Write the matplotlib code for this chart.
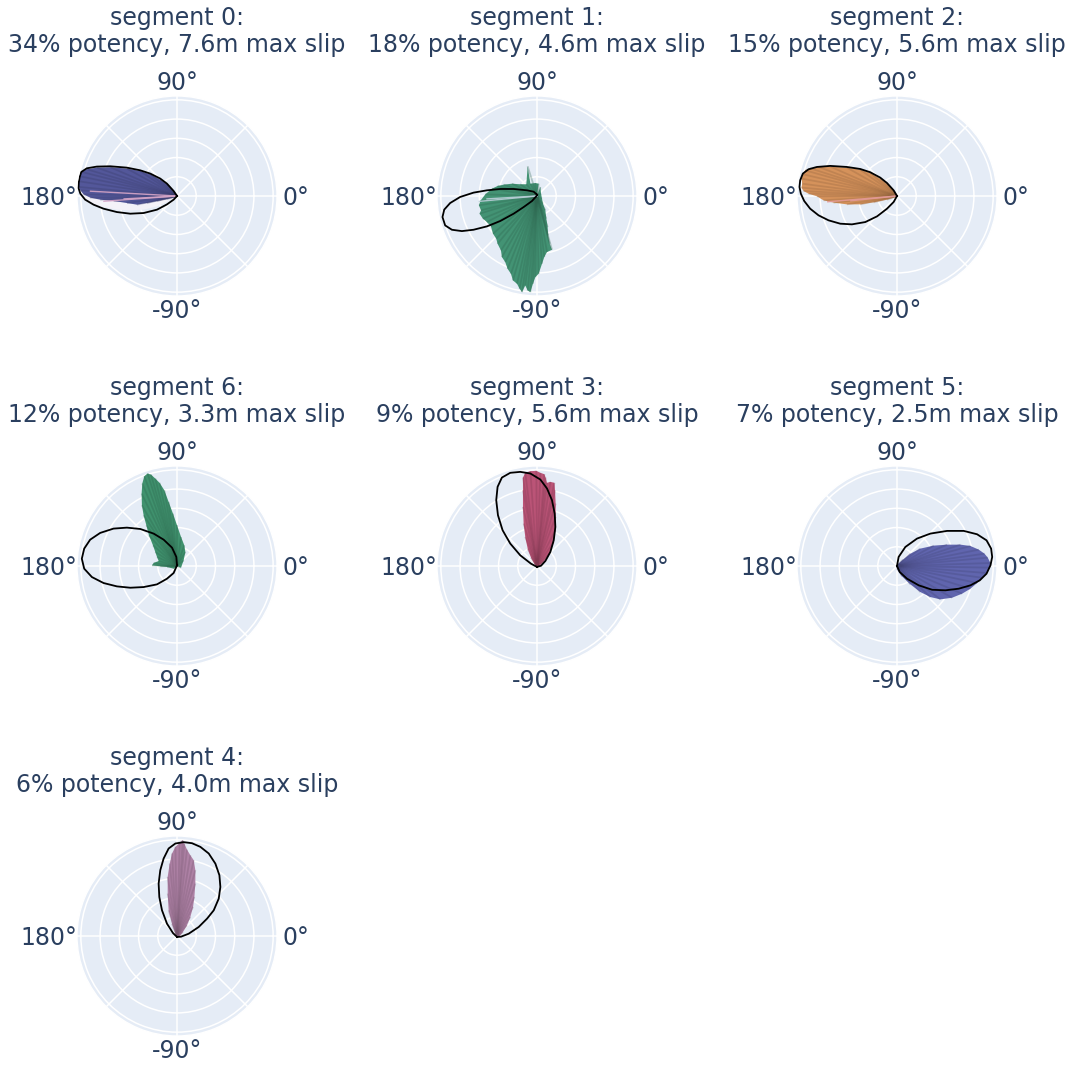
import numpy as np
import matplotlib
matplotlib.use("Agg")
import matplotlib.pyplot as plt
from matplotlib.transforms import offset_copy

# ---- subplot order, headline numbers -------------------------------------
segments = [0, 1, 2, 6, 3, 5, 4]
potency_pct = [34, 18, 15, 12, 9, 7, 6]
max_slip_m = [7.6, 4.6, 5.6, 3.3, 5.6, 2.5, 4.0]
fan_colors = ["#4e5291", "#3f8b6d", "#c98a56", "#3c8a68", "#b04f70", "#5b5fa4", "#a47a9c"]

theta_grid_deg = [0, 45, 90, 135, 180, 225, 270, 315]
theta_label_deg = [0, 90, 180, 270]
theta_labels = ["0°", "90°", "180°", "-90°"]
r_ticks = [0.2, 0.4, 0.6, 0.8, 1.0]
r_max = 1.04

# ---- slip-vector envelopes (normalised along-strike / along-dip parts) ----
fan_ss_0 = [-0.035, -0.104, -0.174, -0.278, -0.382, -0.521, -0.694, -0.833, -0.938, -0.990, -1.010, -1.020,
            -1.020, -1.005, -0.972, -0.903, -0.799, -0.660, -0.521, -0.417, -0.313, -0.208, -0.104, -0.017]
fan_ds_0 = [0.045, 0.122, 0.170, 0.226, 0.260, 0.285, 0.299, 0.295, 0.278, 0.250, 0.205, 0.153,
            0.094, 0.059, 0.017, -0.017, -0.038, -0.052, -0.073, -0.090, -0.073, -0.052, -0.031, -0.007]

fan_ss_1 = [0.017, -0.017, -0.069, -0.097, -0.111, -0.174, -0.260, -0.347, -0.410, -0.469, -0.538, -0.590,
            -0.604, -0.583, -0.597, -0.563, -0.521, -0.479, -0.458, -0.424, -0.410, -0.375, -0.365, -0.330,
            -0.306, -0.271, -0.250, -0.208, -0.181, -0.156, -0.122, -0.097, -0.069, -0.042, -0.017, 0.017,
            0.052, 0.076, 0.104, 0.156, 0.132, 0.115, 0.111, 0.097, 0.087, 0.0625, 0.052, 0.042, 0.035]
fan_ds_1 = [0.128, 0.135, 0.128, 0.309, 0.122, 0.122, 0.128, 0.118, 0.104, 0.076, 0.017, -0.052,
            -0.097, -0.149, -0.184, -0.236, -0.271, -0.316, -0.392, -0.444, -0.497, -0.566, -0.635, -0.688,
            -0.757, -0.809, -0.878, -0.913, -0.965, -1.000, -0.931, -0.983, -1.000, -0.913, -0.844, -0.809,
            -0.705, -0.635, -0.583, -0.559, -0.497, -0.410, -0.323, -0.236, -0.149, -0.080, -0.028, 0.024, 0.094]

fan_ss_2 = [-0.028, -0.104, -0.174, -0.278, -0.382, -0.521, -0.694, -0.816, -0.903, -0.955, -0.979, -0.993,
            -0.986, -0.993, -0.972, -0.920, -0.833, -0.764, -0.660, -0.521, -0.382, -0.243, -0.104, -0.017]
fan_ds_2 = [0.045, 0.128, 0.181, 0.240, 0.274, 0.295, 0.306, 0.302, 0.288, 0.267, 0.226, 0.181,
            0.128, 0.087, 0.052, 0.024, -0.003, -0.045, -0.069, -0.087, -0.087, -0.066, -0.038, -0.010]

fan_ss_6 = [0.042, 0.069, 0.087, 0.076, 0.042, 0.000, -0.042, -0.087, -0.132, -0.181, -0.226, -0.271,
            -0.306, -0.340, -0.361, -0.368, -0.365, -0.347, -0.319, -0.292, -0.250, -0.226, -0.208, -0.191,
            -0.243, -0.260, -0.174, -0.104, -0.035]
fan_ds_6 = [-0.017, 0.059, 0.146, 0.215, 0.302, 0.424, 0.545, 0.667, 0.788, 0.865, 0.910, 0.951,
            0.962, 0.934, 0.858, 0.753, 0.632, 0.528, 0.424, 0.319, 0.215, 0.146, 0.094, 0.052,
            0.031, 0.007, -0.003, -0.010, -0.028]

fan_ss_3 = [0.021, 0.076, 0.132, 0.174, 0.191, 0.194, 0.194, 0.1875, 0.181, 0.139, 0.104, 0.090,
            0.076, 0.035, -0.007, -0.069, -0.122, -0.146, -0.146, -0.146, -0.139, -0.122, -0.097, -0.0625, -0.028]
fan_ds_3 = [-0.003, 0.052, 0.135, 0.250, 0.372, 0.510, 0.649, 0.788, 0.865, 0.875, 0.865, 0.920,
            0.955, 0.969, 0.990, 0.986, 0.969, 0.920, 0.788, 0.615, 0.441, 0.302, 0.181, 0.087, 0.024]

fan_ss_5 = [0.007, 0.052, 0.139, 0.243, 0.347, 0.451, 0.573, 0.677, 0.764, 0.833, 0.885, 0.931,
            0.962, 0.972, 0.944, 0.910, 0.851, 0.764, 0.660, 0.521, 0.382, 0.243, 0.139, 0.0625, 0.017]
fan_ds_5 = [-0.045, -0.108, -0.191, -0.271, -0.323, -0.347, -0.330, -0.288, -0.236, -0.177, -0.122, -0.073,
            -0.017, 0.031, 0.087, 0.128, 0.170, 0.208, 0.222, 0.222, 0.212, 0.181, 0.128, 0.066, 0.024]

fan_ss_4 = [0.028, 0.0625, 0.104, 0.139, 0.167, 0.181, 0.191, 0.191, 0.174, 0.139, 0.104, 0.076,
            0.059, 0.028, -0.017, -0.052, -0.076, -0.097, -0.097, -0.087, -0.052, -0.017]
fan_ds_4 = [-0.003, 0.042, 0.111, 0.198, 0.302, 0.406, 0.545, 0.684, 0.788, 0.840, 0.899, 0.962,
            0.997, 0.969, 0.927, 0.858, 0.753, 0.615, 0.441, 0.267, 0.128, 0.024]

# pale, low-slip vectors below the main bundle of segment 0
pale_ss_0 = [-0.017, -0.104, -0.208, -0.347, -0.486, -0.625, -0.764, -0.868, -0.955, -1.007]
pale_ds_0 = [-0.010, -0.0625, -0.108, -0.142, -0.149, -0.142, -0.115, -0.080, -0.028, 0.042]

# ---- mean-slip contour for each segment ----------------------------------
out_ss_0 = [0.000, -0.035, -0.104, -0.174, -0.278, -0.382, -0.521, -0.694, -0.833, -0.938, -0.995, -1.012,
            -1.022, -1.025, -1.005, -0.955, -0.868, -0.764, -0.625, -0.486, -0.347, -0.208, -0.104, -0.035]
out_ds_0 = [0.000, 0.052, 0.128, 0.181, 0.233, 0.267, 0.295, 0.309, 0.306, 0.288, 0.250, 0.200,
            0.140, 0.085, 0.024, -0.038, -0.090, -0.132, -0.167, -0.184, -0.177, -0.142, -0.087, -0.038]

out_ss_1 = [0.000, -0.035, -0.104, -0.243, -0.382, -0.521, -0.660, -0.799, -0.903, -0.965, -0.983,
            -0.955, -0.885, -0.781, -0.660, -0.521, -0.382, -0.243, -0.139, -0.052, -0.007]
out_ds_1 = [0.014, 0.045, 0.059, 0.073, 0.073, 0.059, 0.035, -0.010, -0.073, -0.142, -0.219,
            -0.306, -0.351, -0.365, -0.351, -0.316, -0.260, -0.184, -0.115, -0.052, -0.003]

out_ss_2 = [0.000, -0.035, -0.104, -0.174, -0.278, -0.382, -0.521, -0.694, -0.833, -0.920, -0.979, -1.007,
            -1.014, -1.000, -0.965, -0.903, -0.816, -0.712, -0.590, -0.469, -0.330, -0.208, -0.104, -0.035]
out_ds_2 = [0.000, 0.059, 0.135, 0.191, 0.247, 0.281, 0.302, 0.313, 0.302, 0.278, 0.233, 0.163,
            0.094, 0.024, -0.052, -0.132, -0.201, -0.253, -0.288, -0.295, -0.271, -0.212, -0.132, -0.0625]

out_ss_6 = [0.000, -0.035, -0.104, -0.208, -0.347, -0.486, -0.625, -0.764, -0.885, -0.965, -0.990,
            -0.965, -0.903, -0.799, -0.660, -0.521, -0.382, -0.243, -0.139, -0.052, -0.007]
out_ds_6 = [0.007, -0.073, -0.132, -0.191, -0.219, -0.226, -0.212, -0.177, -0.115, -0.028, 0.076,
            0.181, 0.274, 0.344, 0.389, 0.399, 0.385, 0.337, 0.274, 0.191, 0.094]

out_ss_3 = [0.000, -0.0625, -0.174, -0.278, -0.358, -0.406, -0.424, -0.410, -0.365, -0.278, -0.174,
            -0.069, 0.035, 0.104, 0.156, 0.184, 0.191, 0.174, 0.139, 0.087, 0.042]
out_ds_3 = [-0.010, 0.024, 0.111, 0.233, 0.372, 0.528, 0.684, 0.823, 0.920, 0.969, 0.979,
            0.962, 0.899, 0.806, 0.684, 0.545, 0.406, 0.267, 0.146, 0.052, 0.003]

out_ss_5 = [0.000, 0.017, 0.087, 0.208, 0.347, 0.521, 0.694, 0.833, 0.931, 0.979, 0.990,
            0.972, 0.931, 0.861, 0.764, 0.642, 0.503, 0.365, 0.226, 0.104, 0.028]
out_ds_5 = [0.000, 0.094, 0.198, 0.285, 0.337, 0.365, 0.365, 0.330, 0.267, 0.181, 0.094,
            0.007, -0.080, -0.149, -0.201, -0.236, -0.253, -0.247, -0.201, -0.132, -0.0625]

out_ss_4 = [0.000, -0.042, -0.104, -0.156, -0.184, -0.191, -0.174, -0.139, -0.087, -0.017, 0.069, 0.156,
            0.243, 0.330, 0.399, 0.441, 0.451, 0.434, 0.382, 0.313, 0.226, 0.122, 0.042]
out_ds_4 = [-0.010, 0.031, 0.128, 0.267, 0.406, 0.545, 0.684, 0.806, 0.910, 0.962, 0.976, 0.965,
            0.927, 0.858, 0.753, 0.632, 0.510, 0.389, 0.267, 0.181, 0.094, 0.024, -0.007]

# ---- a few individual vectors that stand out from the bundle -------------
hl_ss_0 = [-0.76, -0.55, -0.90]
hl_ds_0 = [-0.055, -0.030, 0.050]
hl_ss_1 = [-0.60, -0.52]
hl_ds_1 = [-0.056, -0.030]
hl_ss_2 = [-0.72, -0.48]
hl_ds_2 = [-0.060, -0.050]
hl_colors = {0: "#d6a6c8", 1: "#b9cfd8", 2: "#e39a96"}

fans = {0: (fan_ss_0, fan_ds_0), 1: (fan_ss_1, fan_ds_1), 2: (fan_ss_2, fan_ds_2),
        3: (fan_ss_3, fan_ds_3), 4: (fan_ss_4, fan_ds_4), 5: (fan_ss_5, fan_ds_5),
        6: (fan_ss_6, fan_ds_6)}
outlines = {0: (out_ss_0, out_ds_0), 1: (out_ss_1, out_ds_1), 2: (out_ss_2, out_ds_2),
            3: (out_ss_3, out_ds_3), 4: (out_ss_4, out_ds_4), 5: (out_ss_5, out_ds_5),
            6: (out_ss_6, out_ds_6)}
highlights = {0: (hl_ss_0, hl_ds_0), 1: (hl_ss_1, hl_ds_1), 2: (hl_ss_2, hl_ds_2)}
pale = {0: (pale_ss_0, pale_ds_0)}


def to_polar(ss, ds):
    ss = np.asarray(ss, float)
    ds = np.asarray(ds, float)
    return np.unwrap(np.arctan2(ds, ss)), np.hypot(ss, ds)


def scaled(hex_color, f):
    rgb = np.array(matplotlib.colors.to_rgb(hex_color))
    return tuple(np.clip(rgb * f, 0, 1))


def fan_patch(ax, th, r, **kw):
    ax.fill(np.r_[th[0], th, th[-1]], np.r_[0, r, 0], lw=0, **kw)


TEXT = "#2a3f5f"
BG = "#E5ECF6"
FS = 17
W, H = 1083, 1065
col_cx = [177, 537, 897]
row_cy = [196, 566, 936]
R_PX = 100
# angular label placement: (ha, pixel offset x, pixel offset y of the baseline)
label_place = {0: ("left", 5, -8.6), 90: ("center", 0, 5.5),
               180: ("right", 0, -8.6), 270: ("center", 0, -21.6)}

fig = plt.figure(figsize=(W / 100, H / 100), dpi=100)

for k, seg in enumerate(segments):
    row, col = divmod(k, 3)
    cx, cy = col_cx[col], row_cy[row]
    ax = fig.add_axes([(cx - R_PX) / W, 1 - (cy + R_PX) / H, 2 * R_PX / W, 2 * R_PX / H],
                      projection="polar")
    ax.set_facecolor(BG)
    ax.set_axisbelow(True)

    if seg in pale:
        pt, pr = to_polar(*pale[seg])
        fan_patch(ax, pt, pr, color="#f4f2f8", zorder=1.8)

    color = fan_colors[k]
    th, r = to_polar(*fans[seg])
    fan_patch(ax, th, r, color=scaled(color, 1.06), zorder=2)
    # individual vectors from the origin give the bundle its streaky, denser core
    shade = scaled(color, 0.72)
    for t_i, r_i in zip(th, r):
        ax.plot([t_i, t_i], [0, r_i], color=shade, lw=1.3, alpha=0.3,
                solid_capstyle="butt", zorder=2.1)

    if seg in highlights:
        ht, hr = to_polar(*highlights[seg])
        for t_i, r_i in zip(ht, hr):
            ax.plot([t_i, t_i], [0, r_i], color=hl_colors[seg], lw=1.0, alpha=0.9, zorder=2.2)

    ot, orr = to_polar(*outlines[seg])
    ax.plot(np.r_[ot, ot[0]], np.r_[orr, orr[0]], color="black", lw=1.3, zorder=3)

    ax.set_rlim(0, r_max)
    ax.set_yticks(r_ticks)
    ax.set_yticklabels([])
    ax.set_xticks(np.deg2rad(theta_grid_deg))
    ax.set_xticklabels([])
    ax.tick_params(length=0)
    ax.grid(True, color="white", lw=1.1)
    ax.spines["polar"].set_edgecolor("white")
    ax.spines["polar"].set_linewidth(1.0)

    for deg, txt in zip(theta_label_deg, theta_labels):
        ha, dx, dy = label_place[deg]
        tr = offset_copy(ax.transData, fig=fig, x=dx, y=dy, units="dots")
        ax.text(np.deg2rad(deg), r_max, txt, transform=tr, ha=ha, va="baseline",
                fontsize=FS, color=TEXT, clip_on=False)

    fig.text(cx / W, 1 - (cy - 178) / H, f"segment {seg}:", ha="center", va="center",
             fontsize=FS, color=TEXT)
    fig.text(cx / W, 1 - (cy - 151) / H,
             f"{potency_pct[k]}% potency, {max_slip_m[k]:.1f}m max slip",
             ha="center", va="center", fontsize=FS, color=TEXT)

fig.savefig("out.png", dpi=100, facecolor="white")
